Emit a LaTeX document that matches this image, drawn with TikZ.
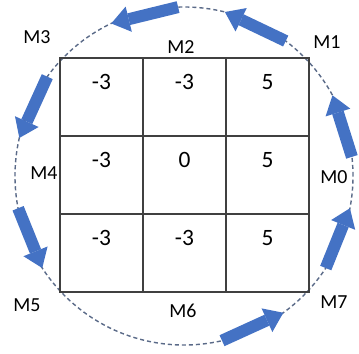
\documentclass[tikz,border=0pt]{standalone}
\usepackage{fontspec}
\setmainfont{Carlito}
\usetikzlibrary{arrows.meta,positioning,calc}
\definecolor{arrowblue}{HTML}{4472C4}
\definecolor{ringgray}{HTML}{5A6A88}
\tikzset{
  cell/.style={draw=black!75, line width=0.9pt, outer sep=0pt, inner sep=0pt, minimum width=2.49cm, minimum height=2.34cm, text height=0.45cm, text depth=0.93cm, font=\fontsize{20}{24}\selectfont},
  move/.style={inner sep=0pt, font=\fontsize{17}{20}\selectfont},
  ring/.style={draw=ringgray, line width=1.2pt, dash pattern=on 3.5pt off 2.5pt},
  blockarrow/.style={draw=arrowblue, line width=0.36cm, -{Triangle[width=0.78cm, length=0.54cm, line width=0pt]}}
}
\begin{document}
\begin{tikzpicture}[x=0.03cm, y=0.03cm, node distance=0pt]
  \useasboundingbox (0,0) rectangle (359,353);
  \coordinate (ctr) at (184,177);
  \draw[ring] (ctr) circle[radius=5.07cm];

  \node[cell, anchor=north west] (c11) at (60,295) {-3};
  \node[cell, right=of c11] (c12) {-3};
  \node[cell, right=of c12] (c13) {5};
  \node[cell, below=of c11] (c21) {-3};
  \node[cell, right=of c21] (c22) {0};
  \node[cell, right=of c22] (c23) {5};
  \node[cell, below=of c21] (c31) {-3};
  \node[cell, right=of c31] (c32) {-3};
  \node[cell, right=of c32] (c33) {5};

  \node[move] (m0) at (334,176) {M0};
  \node[move] (m1) at (327,311) {M1};
  \node[move] (m2) at (181,306) {M2};
  \node[move] (m3) at (37,316) {M3};
  \node[move] (m4) at (44,180) {M4};
  \node[move] (m5) at (27,48) {M5};
  \node[move] (m6) at (183,42) {M6};
  \node[move] (m7) at (334,51) {M7};

  \coordinate (s67) at ($(ctr)+(-77:5.07cm)$);
  \coordinate (t67) at ($(ctr)+(-54:5.07cm)$);
  \coordinate (s70) at ($(ctr)+(-33:5.07cm)$);
  \coordinate (t70) at ($(ctr)+(-11:5.07cm)$);
  \coordinate (s01) at ($(ctr)+(6.5:5.07cm)$);
  \coordinate (t01) at ($(ctr)+(28.5:5.07cm)$);
  \coordinate (s12) at ($(ctr)+(53:5.07cm)$);
  \coordinate (t12) at ($(ctr)+(76:5.07cm)$);
  \coordinate (s23) at ($(ctr)+(92:5.07cm)$);
  \coordinate (t23) at ($(ctr)+(115.5:5.07cm)$);
  \coordinate (s34) at ($(ctr)+(144:5.07cm)$);
  \coordinate (t34) at ($(ctr)+(167:5.07cm)$);
  \coordinate (s45) at ($(ctr)+(191:5.07cm)$);
  \coordinate (t45) at ($(ctr)+(213:5.07cm)$);

  \draw[blockarrow] (s67) -- (t67);
  \draw[blockarrow] (s70) -- (t70);
  \draw[blockarrow] (s01) -- (t01);
  \draw[blockarrow] (s12) -- (t12);
  \draw[blockarrow] (s23) -- (t23);
  \draw[blockarrow] (s34) -- (t34);
  \draw[blockarrow] (s45) -- (t45);
\end{tikzpicture}
\end{document}
